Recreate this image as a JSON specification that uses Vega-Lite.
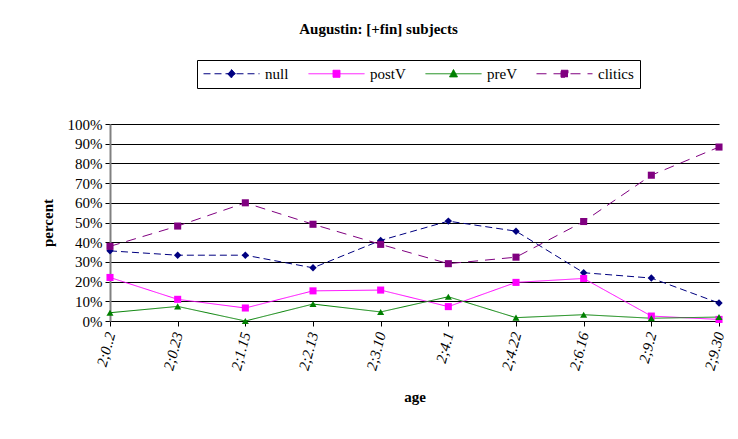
{
  "$schema": "https://vega.github.io/schema/vega-lite/v6.json",
  "autosize": {"type": "none"},
  "padding": {"left": 110, "top": 124, "right": 19, "bottom": 117},
  "width": 609,
  "height": 197,
  "background": "white",
  "title": {
    "text": "Augustin: [+fin] subjects",
    "font": "Liberation Serif",
    "fontSize": 15,
    "fontWeight": "bold",
    "color": "black",
    "anchor": "middle",
    "dx": -36,
    "offset": 23
  },
  "config": {
    "view": {"stroke": null},
    "font": "Liberation Serif"
  },
  "data": {
    "values": [
      {"age": "2;0..2", "series": "null", "value": 0.356},
      {"age": "2;0.23", "series": "null", "value": 0.334},
      {"age": "2;1.15", "series": "null", "value": 0.334},
      {"age": "2;2.13", "series": "null", "value": 0.27},
      {"age": "2;3.10", "series": "null", "value": 0.409},
      {"age": "2;4.1", "series": "null", "value": 0.507},
      {"age": "2;4.22", "series": "null", "value": 0.456},
      {"age": "2;6.16", "series": "null", "value": 0.245},
      {"age": "2;9.2", "series": "null", "value": 0.218},
      {"age": "2;9.30", "series": "null", "value": 0.091},
      {"age": "2;0..2", "series": "postV", "value": 0.221},
      {"age": "2;0.23", "series": "postV", "value": 0.11},
      {"age": "2;1.15", "series": "postV", "value": 0.066},
      {"age": "2;2.13", "series": "postV", "value": 0.153},
      {"age": "2;3.10", "series": "postV", "value": 0.157},
      {"age": "2;4.1", "series": "postV", "value": 0.073},
      {"age": "2;4.22", "series": "postV", "value": 0.196},
      {"age": "2;6.16", "series": "postV", "value": 0.216},
      {"age": "2;9.2", "series": "postV", "value": 0.025},
      {"age": "2;9.30", "series": "postV", "value": 0.008},
      {"age": "2;0..2", "series": "preV", "value": 0.042},
      {"age": "2;0.23", "series": "preV", "value": 0.074},
      {"age": "2;1.15", "series": "preV", "value": 0.0},
      {"age": "2;2.13", "series": "preV", "value": 0.086},
      {"age": "2;3.10", "series": "preV", "value": 0.046},
      {"age": "2;4.1", "series": "preV", "value": 0.123},
      {"age": "2;4.22", "series": "preV", "value": 0.017},
      {"age": "2;6.16", "series": "preV", "value": 0.032},
      {"age": "2;9.2", "series": "preV", "value": 0.014},
      {"age": "2;9.30", "series": "preV", "value": 0.02},
      {"age": "2;0..2", "series": "clitics", "value": 0.379},
      {"age": "2;0.23", "series": "clitics", "value": 0.482},
      {"age": "2;1.15", "series": "clitics", "value": 0.6},
      {"age": "2;2.13", "series": "clitics", "value": 0.491},
      {"age": "2;3.10", "series": "clitics", "value": 0.389},
      {"age": "2;4.1", "series": "clitics", "value": 0.291},
      {"age": "2;4.22", "series": "clitics", "value": 0.324},
      {"age": "2;6.16", "series": "clitics", "value": 0.505},
      {"age": "2;9.2", "series": "clitics", "value": 0.74},
      {"age": "2;9.30", "series": "clitics", "value": 0.883}
    ]
  },
  "encoding": {
    "x": {
      "field": "age",
      "type": "ordinal",
      "sort": null,
      "scale": {"type": "point", "padding": 0},
      "axis": {
        "title": "age",
        "titleFont": "Liberation Serif",
        "titleFontSize": 15,
        "titleFontWeight": "bold",
        "titleColor": "black",
        "titlePadding": 18,
        "labelFont": "Liberation Serif",
        "labelFontSize": 15,
        "labelFontStyle": "italic",
        "labelColor": "black",
        "labelAngle": -75,
        "labelPadding": 6,
        "domainColor": "black",
        "domainWidth": 1,
        "tickColor": "black",
        "tickSize": 5,
        "grid": false
      }
    },
    "y": {
      "field": "value",
      "type": "quantitative",
      "scale": {"domain": [0, 1], "nice": false},
      "axis": {
        "title": "percent",
        "titleFont": "Liberation Serif",
        "titleFontSize": 15,
        "titleFontWeight": "bold",
        "titleColor": "black",
        "titlePadding": 12,
        "format": ".0%",
        "values": [0, 0.1, 0.2, 0.3, 0.4, 0.5, 0.6, 0.7, 0.8, 0.9, 1],
        "labelFont": "Liberation Serif",
        "labelFontSize": 15,
        "labelColor": "black",
        "labelPadding": 3,
        "domainColor": "#808080",
        "domainWidth": 2,
        "tickColor": "black",
        "tickSize": 5,
        "grid": true,
        "gridColor": "black",
        "gridWidth": 1,
        "gridOpacity": 1
      }
    },
    "color": {
      "field": "series",
      "type": "nominal",
      "scale": {
        "domain": ["null", "postV", "preV", "clitics"],
        "range": ["#000080", "#FF00FF", "#008000", "#800080"]
      },
      "legend": {
        "orient": "none",
        "legendX": 87,
        "legendY": -64,
        "direction": "horizontal",
        "title": null,
        "strokeColor": "black",
        "fillColor": "white",
        "padding": 6,
        "labelFont": "Liberation Serif",
        "labelFontSize": 15,
        "labelColor": "black",
        "symbolSize": 196,
        "symbolOffset": 21,
        "labelOffset": 26,
        "columnPadding": 17,
        "symbolStrokeWidth": 1
      }
    }
  },
  "layer": [
    {
      "mark": {"type": "line", "strokeWidth": 1},
      "encoding": {
        "strokeDash": {
          "field": "series",
          "type": "nominal",
          "scale": {
            "domain": ["null", "postV", "preV", "clitics"],
            "range": [[7, 4], [1, 0], [1, 0], [10, 7]]
          }
        }
      }
    },
    {
      "transform": [{"filter": "datum.value < 0"}],
      "mark": {"type": "point", "filled": true, "opacity": 1},
      "encoding": {
        "shape": {
          "field": "series",
          "type": "nominal",
          "scale": {
            "domain": ["null", "postV", "preV", "clitics"],
            "range": [
              "M-4,0H4M0,-0.6L0.55,0L0,0.6L-0.55,0Z",
              "M-4,0H4M-0.5,-0.5H0.5V0.5H-0.5Z",
              "M-4,0H4M0,-0.6L0.57,0.45H-0.57Z",
              "M-4,0H4M-0.5,-0.5H0.5V0.5H-0.5Z"
            ]
          }
        }
      }
    },
    {
      "transform": [{"filter": "datum.series === 'null'"}],
      "mark": {"type": "point", "filled": true, "opacity": 1, "shape": "diamond", "size": 55}
    },
    {
      "transform": [{"filter": "datum.series === 'postV' || datum.series === 'clitics'"}],
      "mark": {"type": "point", "filled": true, "opacity": 1, "shape": "square", "size": 50}
    },
    {
      "transform": [{"filter": "datum.series === 'preV'"}],
      "mark": {"type": "point", "filled": true, "opacity": 1, "shape": "triangle-up", "size": 50}
    }
  ]
}
